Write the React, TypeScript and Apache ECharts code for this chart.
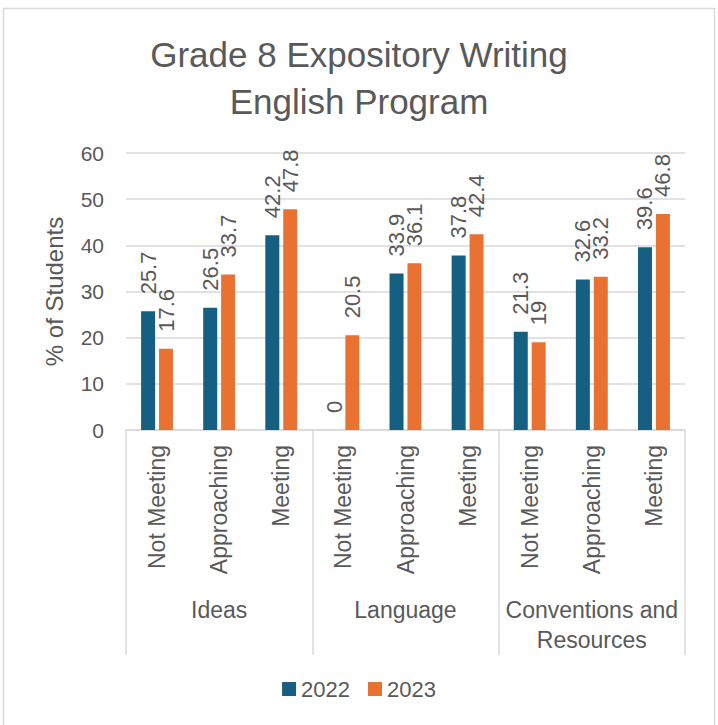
import React, { useEffect, useRef } from "react";
import * as echarts from "echarts";

const categories = [
  "Not Meeting", "Approaching", "Meeting",
  "Not Meeting", "Approaching", "Meeting",
  "Not Meeting", "Approaching", "Meeting",
];
const groups = ["Ideas", "Language", "Conventions and\nResources"];
const values2022 = [25.7, 26.5, 42.2, 0, 33.9, 37.8, 21.3, 32.6, 39.6];
const values2023 = [17.6, 33.7, 47.8, 20.5, 36.1, 42.4, 19, 33.2, 46.8];
const seriesNames = ["2022", "2023"];
const yTicks = { min: 0, max: 60, interval: 10 };

const FONT = "'Liberation Sans', Arial, sans-serif";
const TEXT = "#595959";
const GRID = "#d9d9d9";

export default function App() {
  const ref = useRef<HTMLDivElement>(null);
  useEffect(() => {
    if (!ref.current) return;
    const chart = echarts.init(ref.current, undefined, { renderer: "svg" });
    const labelCfg = {
      show: true,
      position: "top",
      rotate: 90,
      align: "left",
      verticalAlign: "middle",
      distance: 17,
      fontSize: 22,
      color: TEXT,
      fontFamily: FONT,
    };
    chart.setOption({
      animation: false,
      backgroundColor: "#ffffff",
      textStyle: { fontFamily: FONT },
      title: {
        text: "Grade 8 Expository Writing\nEnglish Program",
        left: "center",
        top: 26,
        textStyle: {
          fontSize: 35,
          fontWeight: "normal",
          color: TEXT,
          fontFamily: FONT,
          lineHeight: 47,
        },
      },
      graphic: [
        {
          type: "rect",
          shape: { x: 3.5, y: 8.5, width: 711, height: 760 },
          style: { fill: "none", stroke: GRID, lineWidth: 1.5 },
          silent: true,
        },
      ],
      legend: {
        data: seriesNames,
        bottom: 20,
        left: "center",
        icon: "rect",
        itemWidth: 14,
        itemHeight: 14,
        itemGap: 18,
        textStyle: { fontSize: 22, color: TEXT, fontFamily: FONT },
      },
      grid: {
        left: 126,
        right: 33,
        top: 153,
        bottom: 295,
        containLabel: false,
        outerBoundsMode: "none",
      },
      xAxis: [
        {
          type: "category",
          data: categories,
          position: "bottom",
          axisLine: { show: true, lineStyle: { color: GRID, width: 1.5 } },
          axisTick: { show: false },
          axisLabel: {
            rotate: 90,
            margin: 15,
            fontSize: 23,
            color: TEXT,
            fontFamily: FONT,
            interval: 0,
          },
        },
        {
          type: "category",
          data: groups,
          position: "bottom",
          offset: 0,
          axisLine: { show: false },
          axisTick: {
            show: true,
            length: 225,
            lineStyle: { color: GRID, width: 1.5 },
          },
          axisLabel: {
            margin: 165,
            fontSize: 23,
            lineHeight: 30,
            color: TEXT,
            fontFamily: FONT,
            interval: 0,
          },
          splitLine: { show: false },
        },
      ],
      yAxis: {
        type: "value",
        min: yTicks.min,
        max: yTicks.max,
        interval: yTicks.interval,
        name: "% of Students",
        nameLocation: "middle",
        nameGap: 60,
        nameTextStyle: { fontSize: 24, color: TEXT, fontFamily: FONT },
        axisLine: { show: false },
        axisTick: { show: false },
        axisLabel: { fontSize: 21, color: TEXT, margin: 22, fontFamily: FONT },
        splitLine: { lineStyle: { color: GRID, width: 1.5 } },
      },
      series: [
        {
          name: seriesNames[0],
          type: "bar",
          data: values2022,
          xAxisIndex: 0,
          barWidth: 14,
          barGap: "28%",
          itemStyle: { color: "#156082" },
          label: labelCfg,
        },
        {
          name: seriesNames[1],
          type: "bar",
          data: values2023,
          xAxisIndex: 0,
          barWidth: 14,
          barGap: "28%",
          itemStyle: { color: "#E97132" },
          label: labelCfg,
        },
      ],
    });
    return () => chart.dispose();
  }, []);
  return (
    <div
      ref={ref}
      style={{ position: "fixed", left: 0, top: 0, width: 718, height: 725 }}
    />
  );
}
